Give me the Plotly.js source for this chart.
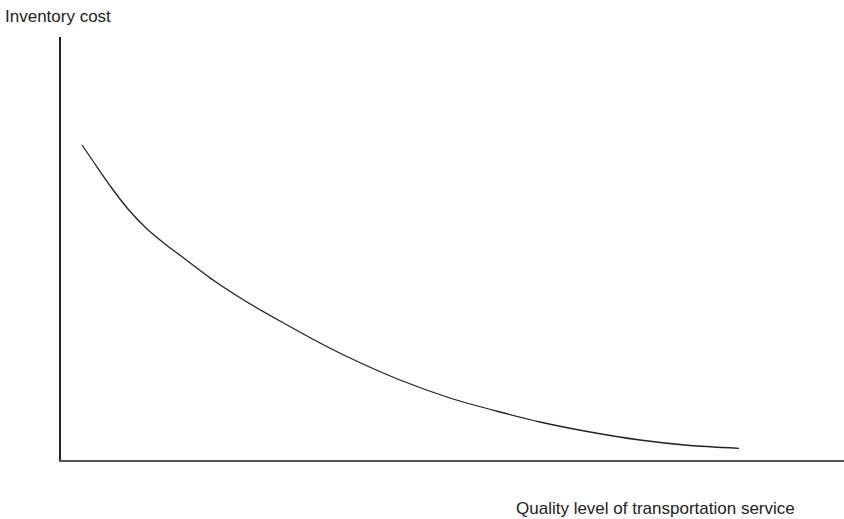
<!DOCTYPE html>
<html>
<head>
<meta charset="utf-8">
<script src="https://cdn.plot.ly/plotly-3.0.1.min.js"></script>
<style>html,body{margin:0;padding:0;background:#fff;}#chart{width:844px;height:519px;}</style>
</head>
<body>
<div id="chart"></div>
<script>
// Quality level of transportation service (relative units)
const serviceLevel = [21, 34, 50, 67, 85, 104, 124, 152, 186, 219, 259, 289, 339, 389, 439, 479, 529, 579, 629, 678];
// Inventory cost (relative units)
const inventoryCost = [315, 296, 273, 251, 232, 216, 201, 180, 158, 139, 117, 102, 80, 62, 48, 38, 28, 20, 14.5, 11.7];
const yTitle = "Inventory cost";
const xTitle = "Quality level of transportation service";

const trace = {
  x: serviceLevel,
  y: inventoryCost,
  mode: 'lines',
  line: {color: '#222', width: 1.3, shape: 'spline', smoothing: 0.6},
  hoverinfo: 'none'
};

const layout = {
  width: 844, height: 519,
  margin: {l: 61, r: 0, t: 37, b: 59},
  paper_bgcolor: '#fff', plot_bgcolor: '#fff',
  showlegend: false,
  font: {family: 'Liberation Sans, Arial, sans-serif', color: '#222'},
  xaxis: {range: [0, 783], showline: true, linecolor: '#555', linewidth: 2,
          showgrid: false, zeroline: false, showticklabels: false, ticks: ''},
  yaxis: {range: [0, 423], showline: true, linecolor: '#222', linewidth: 2,
          showgrid: false, zeroline: false, showticklabels: false, ticks: ''},
  annotations: [
    {text: yTitle, xref: 'paper', yref: 'paper', x: -61/783, y: 1 + 20/423,
     xanchor: 'left', yanchor: 'middle', showarrow: false,
     font: {size: 17, color: '#222'}, xshift: 3},
    {text: xTitle, xref: 'paper', yref: 'paper', x: 736/783, y: -48/423,
     xanchor: 'right', yanchor: 'middle', showarrow: false,
     font: {size: 17, color: '#222'}}
  ]
};

Plotly.newPlot('chart', [trace], layout, {staticPlot: true, displayModeBar: false});
</script>
</body>
</html>
